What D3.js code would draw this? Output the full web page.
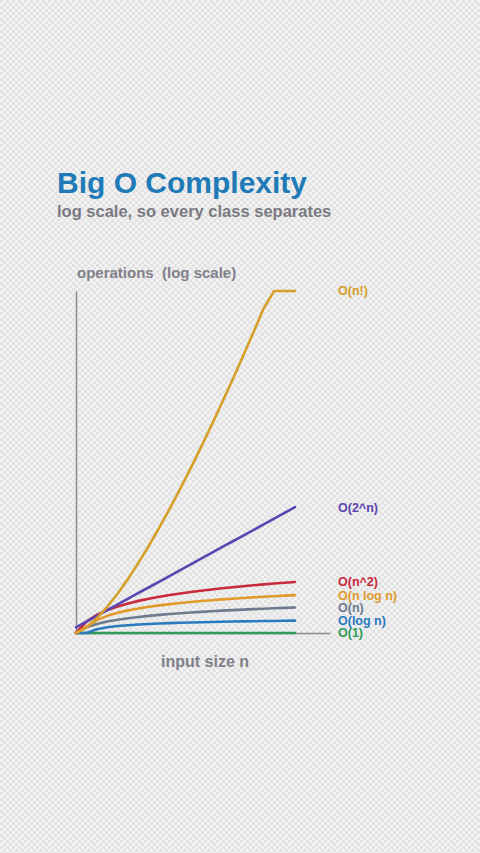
<!DOCTYPE html>
<html>
<head>
<meta charset="utf-8">
<script src="https://cdn.jsdelivr.net/npm/d3@7"></script>
<style>
  html, body { margin: 0; padding: 0; }
  body { width: 480px; height: 853px; overflow: hidden; font-family: 'Liberation Sans', Arial, sans-serif; }
  svg text { white-space: pre; }
</style>
</head>
<body>
<svg id="chart" width="480" height="853"></svg>
<script>
// input sizes along the x axis
const sizes = [1, 2, 3, 4, 5, 6, 7, 8, 9, 10, 11, 12, 13, 14, 15, 16, 17, 18, 19, 20, 21, 22]

// operation counts (log scale, floor 1, capped at 1e18)
const opsConstant = [1, 1, 1, 1, 1, 1, 1, 1, 1, 1, 1, 1, 1, 1, 1, 1, 1, 1, 1, 1, 1, 1]
const opsLog = [1, 1, 1.58, 2, 2.32, 2.58, 2.81, 3, 3.17, 3.32, 3.46, 3.58, 3.7, 3.81, 3.91, 4, 4.09, 4.17, 4.25, 4.32, 4.39, 4.46]
const opsLinear = [1, 2, 3, 4, 5, 6, 7, 8, 9, 10, 11, 12, 13, 14, 15, 16, 17, 18, 19, 20, 21, 22]
const opsNLogN = [1, 2, 4.75, 8, 11.6, 15.5, 19.7, 24, 28.5, 33.2, 38.1, 43, 48.1, 53.3, 58.6, 64, 69.5, 75.1, 80.7, 86.4, 92.2, 98.1]
const opsSquare = [1, 4, 9, 16, 25, 36, 49, 64, 81, 100, 121, 144, 169, 196, 225, 256, 289, 324, 361, 400, 441, 484]
const opsExp = [2, 4, 8, 16, 32, 64, 128, 256, 512, 1024, 2048, 4096, 8192, 16384, 32768, 65536, 131072, 262144, 524288, 1048576, 2097152, 4194304]
const opsFactorial = [1, 2, 6, 24, 120, 720, 5040, 40320, 362880, 3.63e6, 3.99e7, 4.79e8, 6.23e9, 8.72e10, 1.31e12, 2.09e13, 3.56e14, 6.4e15, 1.22e17, 1e18, 1e18, 1e18]

const classLabels = ['O(1)', 'O(log n)', 'O(n)', 'O(n log n)', 'O(n^2)', 'O(2^n)', 'O(n!)']
const classColors = ['#2f9a5a', '#2a7bbd', '#6e7b8f', '#e09a2c', '#c9293c', '#5b45b0', '#d59f2a']
const classValues = [opsConstant, opsLog, opsLinear, opsNLogN, opsSquare, opsExp, opsFactorial]

const yDomain = [1, 1e18]

let svg = d3.select('#chart')

// checkered backdrop
let defs = svg.append('defs')
let pat = defs.append('pattern')
  .attr('id', 'checks')
  .attr('width', 6)
  .attr('height', 6)
  .attr('patternUnits', 'userSpaceOnUse')
pat.append('rect').attr('width', 6).attr('height', 6).attr('fill', '#f2f2f2')
pat.append('rect').attr('width', 3).attr('height', 3).attr('fill', '#e2e2e2')
pat.append('rect').attr('x', 3).attr('y', 3).attr('width', 3).attr('height', 3).attr('fill', '#e2e2e2')
svg.append('rect').attr('width', 480).attr('height', 853).attr('fill', 'url(#checks)')

// titles
svg.append('text')
  .attr('x', 57)
  .attr('y', 193)
  .attr('fill', '#1f7ab8')
  .attr('font-size', 30)
  .attr('font-weight', 'bold')
  .text('Big O Complexity')

svg.append('text')
  .attr('x', 57)
  .attr('y', 217)
  .attr('fill', '#7a7a82')
  .attr('font-size', 16.5)
  .attr('font-weight', 'bold')
  .text('log scale, so every class separates')

// plot area
let margin = {top: 291, left: 76}
let width = 219
let height = 342
let axisLen = 254

let x = d3.scaleLinear().domain(d3.extent(sizes)).range([0, width])
let y = d3.scaleLog().domain(yDomain).range([height, 0]).clamp(true)

let g = svg.append('g')
  .attr('transform', 'translate(' + margin.left + ',' + margin.top + ')')

g.append('g')
  .attr('class', 'axis--y')
  .call(d3.axisLeft(y).tickValues([]).tickSizeOuter(0))
  .select('.domain')
    .attr('stroke', '#8c8c92')
    .attr('stroke-width', 1.5)

g.append('g')
  .attr('class', 'axis--x')
  .attr('transform', 'translate(0,' + height + ')')
  .call(d3.axisBottom(d3.scaleLinear().range([0, axisLen])).tickValues([]).tickSizeOuter(0))
  .select('.domain')
    .attr('stroke', '#8c8c92')
    .attr('stroke-width', 1.5)

// axis titles
g.append('text')
  .attr('x', 1)
  .attr('y', -13)
  .attr('fill', '#80808a')
  .attr('font-size', 15)
  .attr('font-weight', 'bold')
  .text('operations  (log scale)')

g.append('text')
  .attr('x', axisLen / 2 + 2)
  .attr('y', height + 34)
  .attr('text-anchor', 'middle')
  .attr('fill', '#80808a')
  .attr('font-size', 16)
  .attr('font-weight', 'bold')
  .text('input size n')

let line = d3.line()
  .x((d, i) => x(sizes[i]))
  .y((d) => y(d))

classValues.forEach(function (vals, i) {
  g.append('path').datum(vals)
    .attr('fill', 'none')
    .attr('stroke', classColors[i])
    .attr('stroke-width', 2.6)
    .attr('stroke-linejoin', 'round')
    .attr('stroke-linecap', 'round')
    .attr('d', line)
})

classValues.forEach(function (vals, i) {
  g.append('text')
    .attr('x', 262)
    .attr('y', y(vals[vals.length - 1]))
    .attr('dy', '0.35em')
    .attr('fill', classColors[i])
    .attr('font-size', 12.5)
    .attr('font-weight', 'bold')
    .text(classLabels[i])
})
</script>
</body>
</html>
